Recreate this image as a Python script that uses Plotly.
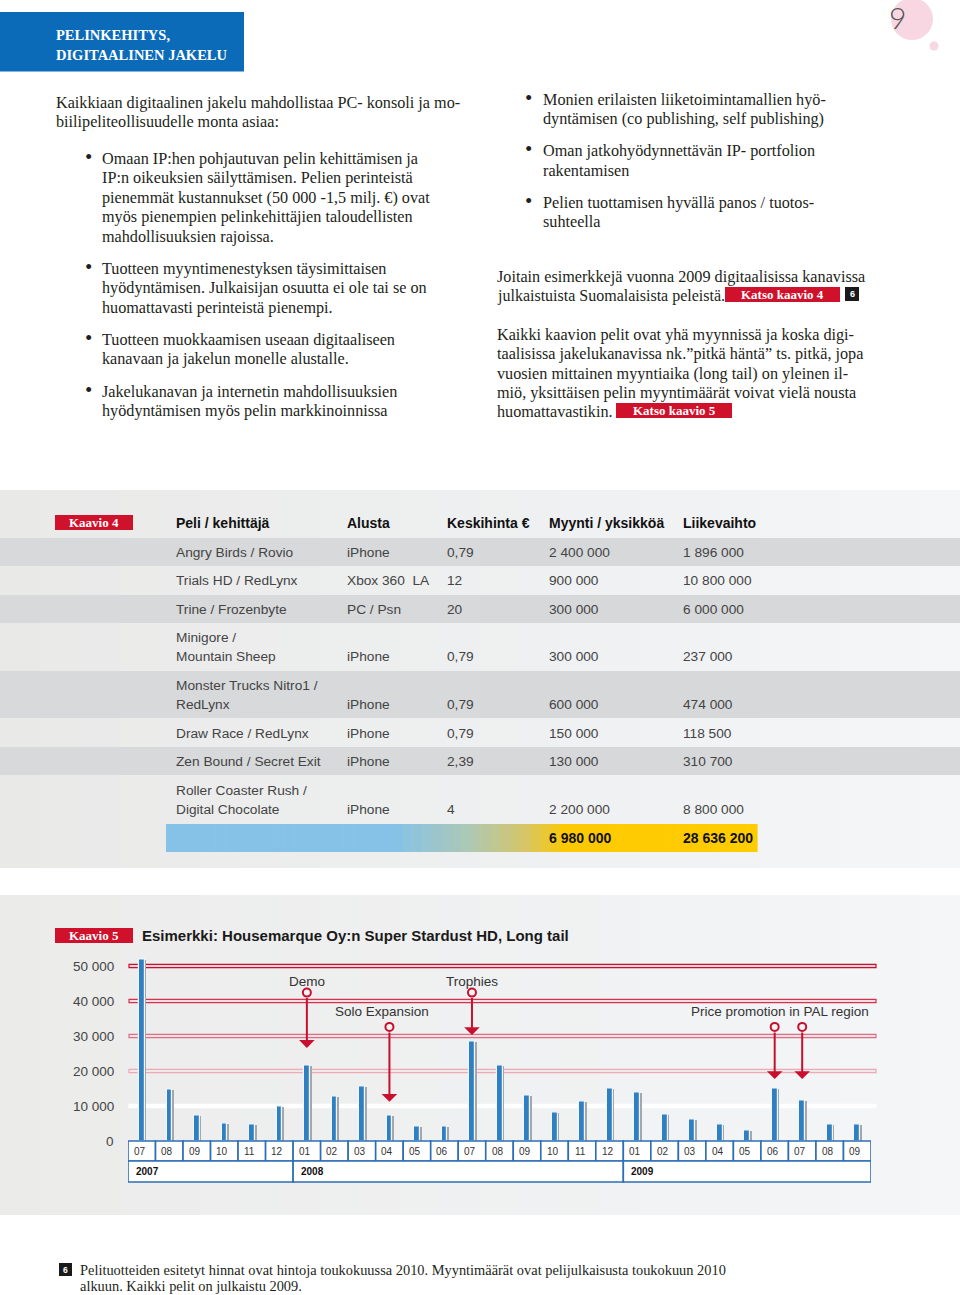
import plotly.graph_objects as go

W, H = 960, 1295
def X(px): return px / W
def Y(py): return 1 - py / H

# ---------------- data ----------------
months = ["07", "08", "09", "10", "11", "12",
          "01", "02", "03", "04", "05", "06", "07", "08", "09", "10", "11", "12",
          "01", "02", "03", "04", "05", "06", "07", "08", "09"]
years = ["2007", "2008", "2009"]
months_per_year = [6, 12, 9]
sales = [52000, 14600, 7400, 4900, 4700, 9800,
         21700, 12700, 15500, 7200, 4100, 4100, 28400, 21700, 12900, 8100, 11200, 15000,
         13800, 7600, 6200, 4600, 3100, 15000, 11700, 4600, 4600]
y_ticks = [0, 10000, 20000, 30000, 40000, 50000]
y_tick_text = ["0", "10 000", "20 000", "30 000", "40 000", "50 000"]

event_month = [6, 9, 12, 23, 24]
event_from = [42400, 32600, 42400, 32600, 32600]
event_to = [26600, 11200, 30300, 17700, 17700]
event_labels = ["Demo", "Solo Expansion", "Trophies", "Price promotion in PAL region"]

games = ["Angry Birds / Rovio", "Trials HD / RedLynx", "Trine / Frozenbyte",
         "Minigore /\nMountain Sheep", "Monster Trucks Nitro1 /\nRedLynx",
         "Draw Race / RedLynx", "Zen Bound / Secret Exit",
         "Roller Coaster Rush /\nDigital Chocolate"]
platforms = ["iPhone", "Xbox 360  LA", "PC / Psn", "iPhone", "iPhone", "iPhone", "iPhone", "iPhone"]
prices = ["0,79", "12", "20", "0,79", "0,79", "0,79", "2,39", "4"]
units = [2400000, 900000, 300000, 300000, 600000, 150000, 130000, 2200000]
revenue = [1896000, 10800000, 6000000, 237000, 474000, 118500, 310700, 8800000]
table_headers = ["Peli / kehittäjä", "Alusta", "Keskihinta €", "Myynti / yksikköä", "Liikevaihto"]

def fmt(n):
    return f"{n:,}".replace(",", " ")

SERIF = "Liberation Serif"
SANS = "Liberation Sans"
RED = "#c8102e"
BLUE_BOX = "#2c6fb6"
TXT = "#231f20"
BODY = 16.2

shapes = []
annotations = []

def rect(x0, y0, x1, y1, fill, line=None, lw=0, layer="below"):
    d = dict(type="rect", xref="paper", yref="paper", x0=X(x0), x1=X(x1), y0=Y(y1), y1=Y(y0),
             fillcolor=fill, layer=layer, line=dict(width=lw, color=line or fill))
    shapes.append(d)

def circle(cx, cy, r, fill):
    shapes.append(dict(type="circle", xref="paper", yref="paper", x0=X(cx - r), x1=X(cx + r),
                       y0=Y(cy + r), y1=Y(cy - r), fillcolor=fill, line=dict(width=0), layer="below"))

def txt(x, y, s, size=BODY, color=TXT, family=SERIF, anchor="left", weight=None):
    f = dict(size=size, color=color, family=family)
    if weight:
        f["weight"] = weight
    annotations.append(dict(x=X(x), y=Y(y), xref="paper", yref="paper", text=s, showarrow=False,
                            xanchor=anchor, yanchor="middle", font=f, borderpad=0))

def lerp(c1, c2, t):
    a = [int(c1[i:i + 2], 16) for i in (1, 3, 5)]
    b = [int(c2[i:i + 2], 16) for i in (1, 3, 5)]
    return "#" + "".join(f"{round(a[k] + (b[k] - a[k]) * t):02x}" for k in range(3))

def grad_rect(x0, y0, x1, y1, stops, n=40):
    w = (x1 - x0) / n
    for i in range(n):
        px = x0 + (i + 0.5) * w
        for j in range(len(stops) - 1):
            if stops[j][0] <= px <= stops[j + 1][0]:
                t = (px - stops[j][0]) / (stops[j + 1][0] - stops[j][0])
                c = lerp(stops[j][1], stops[j + 1][1], t)
                break
        else:
            c = stops[-1][1] if px > stops[-1][0] else stops[0][1]
        rect(x0 + i * w, y0, x0 + (i + 1) * w + 0.6, y1, c)

# ---------------- page header ----------------
rect(0, 12, 244, 71.5, "#0b6bb8")
txt(55, 35, "PELINKEHITYS,", 14.5, "white", SERIF, weight="bold")
txt(55, 55, "DIGITAALINEN JAKELU", 14.5, "white", SERIF, weight="bold")
circle(912, 19, 21, "#f8d6e2")
circle(934, 46, 4.5, "#f8d6e2")
txt(897, 17, "9", 30, "#555555", "Lato", anchor="center", weight=300)

# ---------------- body text ----------------
txt(55, 103, "Kaikkiaan digitaalinen jakelu mahdollistaa PC- konsoli ja mo-")
txt(55, 122, "biilipeliteollisuudelle monta asiaa:")
left_bullets = [
    [(159, "Omaan IP:hen pohjautuvan pelin kehittämisen ja"),
     (178, "IP:n oikeuksien säilyttämisen. Pelien perinteistä"),
     (198, "pienemmät kustannukset (50 000 -1,5 milj. €) ovat"),
     (217, "myös pienempien pelinkehittäjien taloudellisten"),
     (237, "mahdollisuuksien rajoissa.")],
    [(269, "Tuotteen myyntimenestyksen täysimittaisen"),
     (288, "hyödyntämisen. Julkaisijan osuutta ei ole tai se on"),
     (308, "huomattavasti perinteistä pienempi.")],
    [(340, "Tuotteen muokkaamisen useaan digitaaliseen"),
     (359, "kanavaan ja jakelun monelle alustalle.")],
    [(392, "Jakelukanavan ja internetin mahdollisuuksien"),
     (411, "hyödyntämisen myös pelin markkinoinnissa")],
]
for block in left_bullets:
    txt(84, block[0][0] - 2, "•", 21)
    for yy, s in block:
        txt(101, yy, s)

right_bullets = [
    [(100, "Monien erilaisten liiketoimintamallien hyö-"),
     (119, "dyntämisen (co publishing, self publishing)")],
    [(151, "Oman jatkohyödynnettävän IP- portfolion"),
     (171, "rakentamisen")],
    [(203, "Pelien tuottamisen hyvällä panos / tuotos-"),
     (222, "suhteella")],
]
for block in right_bullets:
    txt(524, block[0][0] - 2, "•", 21)
    for yy, s in block:
        txt(542, yy, s)

txt(496, 277, "Joitain esimerkkejä vuonna 2009 digitaalisissa kanavissa")
txt(496, 296, "julkaistuista Suomalaisista peleistä.", 16)
rect(725, 287, 840, 302, "#d0112b")
txt(782.5, 294.5, "Katso kaavio 4", 13, "white", SERIF, anchor="center", weight="bold")
rect(845, 287, 859, 301, "#1a1a1a")
txt(852, 294, "6", 9, "white", SANS, anchor="center", weight="bold")

txt(496, 335, "Kaikki kaavion pelit ovat yhä myynnissä ja koska digi-")
txt(496, 354, "taalisissa jakelukanavissa nk.”pitkä häntä” ts. pitkä, jopa")
txt(496, 374, "vuosien mittainen myyntiaika (long tail) on yleinen il-")
txt(496, 393, "miö, yksittäisen pelin myyntimäärät voivat vielä nousta")
txt(496, 412, "huomattavastikin.")
rect(616, 403, 732, 418, "#d0112b")
txt(674, 410.5, "Katso kaavio 5", 13, "white", SERIF, anchor="center", weight="bold")

# ---------------- table (Kaavio 4) ----------------
grad_rect(0, 490, 960, 868, [(0, "#e9e9e8"), (960, "#f4f6f8")], n=24)
row_last_y = [552, 580, 609, 656, 704, 733, 761, 809]
LINE = 19
TB = 13.7
for i, g in enumerate(games):
    lines = g.split("\n")
    first = row_last_y[i] - (len(lines) - 1) * LINE
    if i % 2 == 0:
        grad_rect(0, first - 14, 960, row_last_y[i] + 14,
                  [(0, "#d8d9da"), (960, "#d6d8da")], n=4)
    for k, ln in enumerate(lines):
        txt(175, first + k * LINE, ln, TB, "#444444", SANS)
    txt(346, row_last_y[i], platforms[i], TB, "#444444", SANS)
    txt(446, row_last_y[i], prices[i], TB, "#444444", SANS)
    txt(548, row_last_y[i], fmt(units[i]), TB, "#444444", SANS)
    txt(682, row_last_y[i], fmt(revenue[i]), TB, "#444444", SANS)

col_x = [175, 346, 446, 548, 682]
for cx, h in zip(col_x, table_headers):
    txt(cx, 523, h, 14, "#111111", SANS, weight="bold")
rect(55, 515, 133, 530, "#d0112b")
txt(94, 522.5, "Kaavio 4", 13, "white", SERIF, anchor="center", weight="bold")

grad_rect(166, 824, 757, 852, [(166, "#86c2e8"), (395, "#86c2e8"), (470, "#aec8b4"),
                               (525, "#d6c567"), (565, "#fdc903"), (757, "#ffcc00")], n=60)
txt(548, 838, fmt(sum(units)), 14, "#111111", SANS, weight="bold")
txt(682, 838, fmt(sum(revenue)), 14, "#111111", SANS, weight="bold")

# ---------------- chart panel (Kaavio 5) ----------------
grad_rect(0, 895, 960, 1215, [(0, "#ebebea"), (960, "#f4f6f8")], n=24)
rect(55, 928, 133, 943, "#d0112b")
txt(94, 935.5, "Kaavio 5", 13, "white", SERIF, anchor="center", weight="bold")
txt(141, 935, "Esimerkki: Housemarque Oy:n Super Stardust HD, Long tail", 15, "#1a1a1a", SANS,
    weight="bold")

grid_style = {50000: ("#c4122f", "#f2d3da"), 40000: ("#d0344f", "#f3dde2"),
              30000: ("#dd6e83", "#f1e2e6"), 20000: ("#ebaab6", "#f1e8ea"),
              10000: ("#ffffff", "#ffffff")}
for v in y_ticks[1:]:
    lc, fc = grid_style[v]
    shapes.append(dict(type="rect", xref="paper", yref="y", x0=X(129), x1=X(876),
                       y0=v - 480, y1=v + 480, fillcolor=fc, line=dict(color=lc, width=1.2),
                       layer="below"))
for v, t in zip(y_ticks, y_tick_text):
    annotations.append(dict(x=X(116), y=v, xref="paper", yref="y", text=t, showarrow=False,
                            xanchor="right", yanchor="middle",
                            font=dict(size=13.5, color="#444444", family=SANS)))

# month / year boxes
for i, m in enumerate(months):
    shapes.append(dict(type="rect", xref="x", yref="paper", x0=i - 0.5, x1=i + 0.5,
                       y0=Y(1161), y1=Y(1141), fillcolor="white",
                       line=dict(color=BLUE_BOX, width=1.6), layer="above"))
    annotations.append(dict(x=i, y=Y(1151.5), xref="x", yref="paper", text=m, showarrow=False,
                            xanchor="center", yanchor="middle", xshift=-2,
                            font=dict(size=10, color="#333333", family=SANS)))
start = 0
for yname, n in zip(years, months_per_year):
    shapes.append(dict(type="rect", xref="x", yref="paper", x0=start - 0.5, x1=start + n - 0.5,
                       y0=Y(1182), y1=Y(1161), fillcolor="white",
                       line=dict(color=BLUE_BOX, width=1.6), layer="above"))
    annotations.append(dict(x=start - 0.5, y=Y(1171.5), xref="x", yref="paper", text=yname,
                            showarrow=False, xanchor="left", yanchor="middle", xshift=6,
                            font=dict(size=10, color="#111111", family=SANS, weight="bold")))
    start += n

idx = list(range(len(months)))
fig = go.Figure()
fig.add_trace(go.Bar(x=idx, y=sales, width=0.17, offset=0.0, marker=dict(color="#a4a8ac", line=dict(width=0)),
                     hoverinfo="skip", showlegend=False))
fig.add_trace(go.Bar(x=idx, y=sales, width=0.21, offset=-0.1,
                     marker=dict(color="#2f7fc1", line=dict(color="#eef6fc", width=1.2)),
                     showlegend=False))

# event arrows
for k, (i, a, b) in enumerate(zip(event_month, event_from, event_to)):
    annotations.append(dict(x=i, y=b, xref="x", yref="y", ax=i, ay=a, axref="x", ayref="y",
                            text="", showarrow=True, arrowhead=1, arrowsize=1.3, arrowwidth=2,
                            arrowcolor=RED, startstandoff=4))
fig.add_trace(go.Scatter(x=event_month, y=event_from, mode="markers",
                         marker=dict(symbol="circle", size=8, color="#f3f3f3",
                                     line=dict(color=RED, width=2)),
                         hoverinfo="skip", showlegend=False))
label_y = [45700, 37100, 45700]
label_shift = [0, -7, 0]
for k in range(3):
    annotations.append(dict(x=event_month[k], y=label_y[k], xref="x", yref="y", text=event_labels[k],
                            showarrow=False, xanchor="center", yanchor="middle", xshift=label_shift[k],
                            font=dict(size=13.5, color="#333333", family=SANS)))
annotations.append(dict(x=X(871), y=37100, xref="paper", yref="y", text=event_labels[3],
                        showarrow=False, xanchor="right", yanchor="middle",
                        font=dict(size=13.5, color="#333333", family=SANS)))

# ---------------- footnote ----------------
rect(59, 1263, 72, 1276, "#1a1a1a")
txt(65.5, 1269.5, "6", 8.5, "white", SANS, anchor="center", weight="bold")
txt(79, 1270, "Pelituotteiden esitetyt hinnat ovat hintoja toukokuussa 2010. Myyntimäärät ovat pelijulkaisusta toukokuun 2010", 14.4)
txt(79, 1286, "alkuun. Kaikki pelit on julkaistu 2009.", 14.4)

fig.update_layout(
    width=W, height=H, margin=dict(l=0, r=0, t=0, b=0),
    paper_bgcolor="white", plot_bgcolor="rgba(0,0,0,0)",
    barmode="overlay", bargap=0,
    xaxis=dict(domain=[X(128), X(871)], range=[-0.5, 26.5], visible=False, fixedrange=True),
    yaxis=dict(domain=[Y(1141), Y(948.5)], range=[0, 55000], visible=False, fixedrange=True),
    shapes=shapes, annotations=annotations, showlegend=False,
)
fig.write_html("out.html", config={"displayModeBar": False},
               post_script="document.body.style.margin='0';document.body.style.overflow='hidden';")
